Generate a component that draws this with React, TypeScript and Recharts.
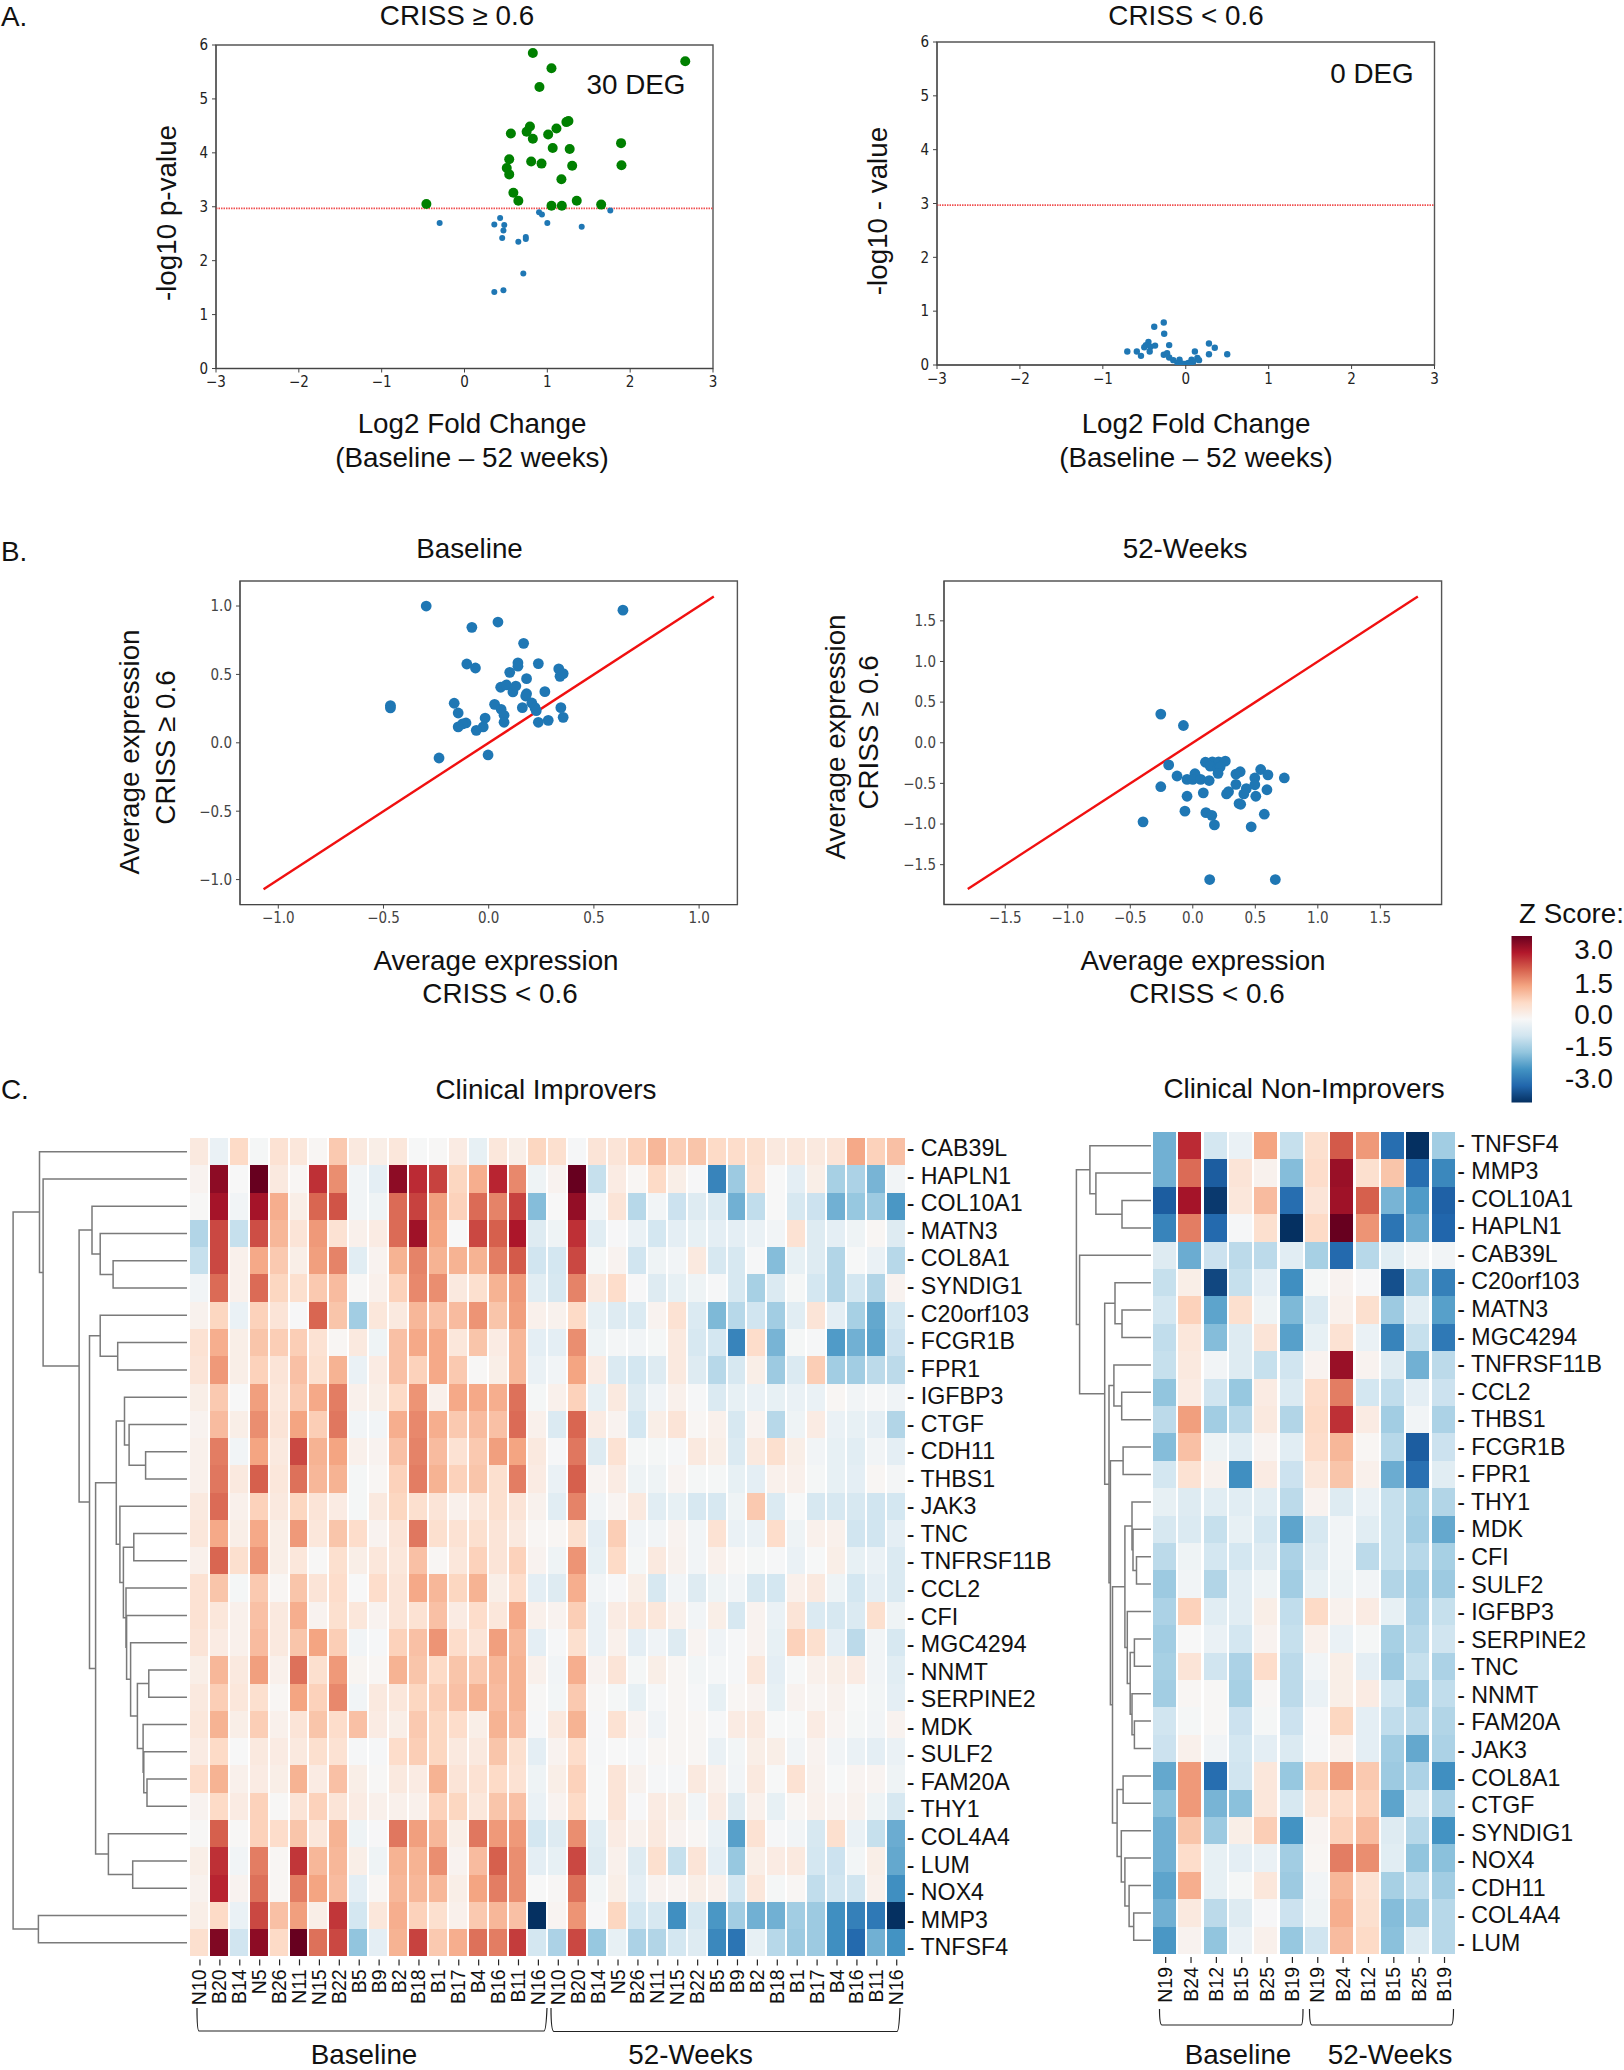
import React from 'react';
import { BarChart, Bar, Cell, ScatterChart, Scatter, XAxis, YAxis, ReferenceLine, ReferenceArea } from 'recharts';

// Panel A: volcano plots [log2 fold change, -log10 p]
const degGreen = [
  [0.825, 5.85], [1.05, 5.57], [2.665, 5.7], [0.905, 5.22], [1.255, 4.59], [1.23, 4.57], [0.79, 4.49], [0.75, 4.39],
  [0.56, 4.36], [1.11, 4.45], [1.01, 4.34], [0.825, 4.26], [1.065, 4.09], [1.27, 4.07], [1.89, 4.18], [0.54, 3.88],
  [0.805, 3.84], [0.93, 3.8], [1.3, 3.76], [1.895, 3.77], [0.51, 3.72], [0.54, 3.6], [1.17, 3.51], [0.59, 3.26],
  [0.65, 3.11], [1.355, 3.11], [1.05, 3.02], [1.175, 3.02], [1.65, 3.04], [-0.46, 3.05],
];
const nonDegBlue = [
  [-0.3, 2.7], [0.36, 2.67], [0.43, 2.79], [0.48, 2.66], [0.47, 2.56], [0.455, 2.42], [0.65, 2.35], [0.74, 2.44],
  [0.74, 2.4], [0.71, 1.76], [0.36, 1.42], [0.47, 1.45], [0.9, 2.9], [0.935, 2.855], [1.0, 2.7], [1.415, 2.63], [1.76, 2.93],
];
const nonResponders = [
  [-0.265, 0.79], [-0.38, 0.71], [-0.26, 0.58], [-0.2, 0.37], [-0.45, 0.43], [-0.48, 0.37], [-0.5, 0.33], [-0.425, 0.34],
  [-0.37, 0.36], [-0.435, 0.25], [-0.705, 0.25], [-0.59, 0.25], [-0.54, 0.17], [-0.265, 0.19], [-0.225, 0.22], [-0.2, 0.14],
  [-0.15, 0.09], [-0.075, 0.1], [-0.1, 0.04], [-0.01, 0.02], [0.03, 0.04], [0.07, 0.1], [0.11, 0.25], [0.14, 0.13],
  [0.16, 0.09], [0.09, 0.06], [0.28, 0.4], [0.35, 0.32], [0.28, 0.2], [0.5, 0.2], [-0.05, 0.03], [0.05, 0.03],
];
const pThreshold = 2.97;

// Panel B: average expression [CRISS < 0.6, CRISS >= 0.6]
const baselineExpr = [
  [-0.297, 1.0], [0.638, 0.97], [0.044, 0.883], [-0.08, 0.844], [0.166, 0.727], [-0.104, 0.576], [-0.063, 0.547], [0.139, 0.584],
  [0.139, 0.56], [0.236, 0.579], [0.1, 0.515], [0.18, 0.469], [0.333, 0.54], [0.339, 0.486], [0.354, 0.506], [0.057, 0.406],
  [0.084, 0.423], [0.115, 0.372], [0.129, 0.415], [0.18, 0.359], [0.176, 0.342], [0.267, 0.374], [-0.467, 0.272], [-0.467, 0.255],
  [-0.164, 0.289], [0.028, 0.281], [-0.145, 0.218], [0.059, 0.245], [0.16, 0.257], [0.205, 0.291], [0.22, 0.257], [0.226, 0.235],
  [0.343, 0.257], [0.073, 0.201], [-0.017, 0.181], [0.354, 0.186], [0.283, 0.164], [0.236, 0.15], [0.073, 0.15], [-0.108, 0.145],
  [-0.124, 0.138], [-0.145, 0.116], [-0.026, 0.116], [-0.059, 0.091], [-0.236, -0.111], [-0.003, -0.089],
];
const week52Expr = [
  [-0.256, 0.353], [-0.075, 0.212], [0.101, -0.24], [0.156, -0.235], [0.206, -0.235], [0.26, -0.226], [0.139, -0.287], [0.198, -0.32],
  [0.219, -0.296], [0.202, -0.376], [-0.193, -0.273], [-0.126, -0.409], [-0.046, -0.451], [0.017, -0.381], [0, -0.451], [0.063, -0.451],
  [0.131, -0.465], [0.345, -0.386], [0.379, -0.357], [0.543, -0.329], [0.601, -0.395], [0.732, -0.433], [0.496, -0.433], [0.496, -0.517],
  [0.345, -0.512], [-0.256, -0.541], [0.428, -0.564], [0.408, -0.63], [0.286, -0.602], [0.27, -0.63], [0.593, -0.578], [0.504, -0.658],
  [-0.046, -0.658], [0.084, -0.616], [0.37, -0.748], [0.383, -0.757], [-0.063, -0.842], [0.105, -0.86], [0.152, -0.893], [0.572, -0.879],
  [-0.398, -0.973], [0.173, -1.011], [0.467, -1.034], [0.135, -1.683], [0.66, -1.683],
];

// Panel C: heatmaps
const improverSamples = ['N10', 'B20', 'B14', 'N5', 'B26', 'N11', 'N15', 'B22', 'B5', 'B9', 'B2', 'B18', 'B1', 'B17', 'B4', 'B16', 'B11', 'N16'];
const improverGenes = ['CAB39L', 'HAPLN1', 'COL10A1', 'MATN3', 'COL8A1', 'SYNDIG1', 'C20orf103', 'FCGR1B', 'FPR1', 'IGFBP3', 'CTGF', 'CDH11', 'THBS1', 'JAK3', 'TNC', 'TNFRSF11B', 'CCL2', 'CFI', 'MGC4294', 'NNMT', 'SERPINE2', 'MDK', 'SULF2', 'FAM20A', 'THY1', 'COL4A4', 'LUM', 'NOX4', 'MMP3', 'TNFSF4'];
const improverBaseline = [
  [.3, -.2, .6, -.05, .45, .35, .05, .8, .3, .2, .35, -.01, .03, .25, -.25, .35, .2, .65],
  [.1, 2.7, 0, 3, .3, .05, 2.2, 1.4, -.1, -.3, 2.7, 2.25, 2.05, .65, 1.1, 2.3, 1.45, -.15],
  [.03, 2.5, -.1, 2.5, 1.1, .2, 1.75, 1.9, -.1, -.15, 1.7, 2.05, 1.25, .7, 1.7, 1.5, 2.05, -1.3],
  [-.9, 2, -.7, 1.95, 1, .4, 1.3, .45, .15, .25, 1.7, 2.55, 1.2, 0, 2, 1.8, 2.45, -.4],
  [-.7, 2, .15, 1.15, .8, .2, 1.25, 1.5, -.35, .1, 1.05, 1.5, 1.05, 1.05, 1.05, 1.55, 1.85, -.6],
  [-.1, 1.7, .15, 1.7, .65, .5, .8, .95, .02, .15, .7, 1.45, 1.4, .3, .5, 1.05, 1.3, -.35],
  [.12, .65, -.2, .7, .4, -.02, 1.75, .85, -1.05, .35, .3, 1, .9, .95, 1.35, .85, 1.25, .15],
  [.45, 1.1, .2, .85, .75, .75, .45, .05, .3, -.15, .9, 1.15, 1.15, .35, .85, .25, 1, -.3],
  [.4, 1.3, .2, .7, .4, .9, .5, 1.05, -.2, .25, .9, .7, 1.15, .8, .03, .2, 1, -.2],
  [.2, .8, 0, 1.25, .35, .8, 1.15, 1.55, .15, .2, .6, 1.35, .15, 1.15, 1.15, 1.1, 1.65, -.05],
  [.1, .95, .2, 1.4, .4, 1.2, .75, 1.6, -.1, -.1, 1.1, 1.45, 1.1, .8, .95, .9, 1.7, .15],
  [.15, 1.55, -.1, 1.2, .3, 2, 1.05, 1.2, .15, .1, .9, 1.5, .95, .45, .8, 1.25, 1.2, .3],
  [.15, 1.6, .3, 1.8, .35, 1.65, 1, 1.05, -.05, .05, .7, 1.55, 1.05, .7, .85, .5, 1.55, .25],
  [.3, 1.7, .15, .7, .3, .65, .4, .25, -.05, .3, .65, .5, .4, .15, .35, .5, .4, .12],
  [.35, 1.15, .2, 1.15, .2, 1.3, .35, .85, .55, .1, .4, 1.6, .5, .45, .5, .4, .3, .05],
  [.15, 1.75, .5, 1.35, .2, .35, .02, .5, .2, .35, .35, .9, .05, .35, .7, .4, .7, .1],
  [.45, .85, -.05, .8, .05, .85, .4, .55, 0, .55, .4, 1.15, 1, .65, 1.05, .2, .55, -.3],
  [.45, .35, .15, .9, .3, 1.1, .1, .5, .35, .1, .4, .45, .9, .25, .55, .35, 1.15, .15],
  [.4, .25, .15, .95, .3, .85, 1.2, .75, -.1, -.03, .7, .9, 1.35, .55, .4, 1.25, 1, -.3],
  [.2, 1, .3, 1.25, .15, 1.65, .5, 1.3, .07, .05, 1.05, .85, .6, .85, .8, 1, 1.05, .15],
  [.3, .75, .35, .5, .05, 1.2, .7, 1.45, -.1, .3, .35, .65, .75, .9, 1.05, .95, 1.05, .03],
  [.35, 1.05, .2, .75, .15, .4, .85, .55, .9, .25, .2, .8, .65, .55, .2, 1.05, .95, -.03],
  [.25, .6, 0, .3, .25, .3, .5, .45, -.03, -.03, .55, .75, .65, .3, .3, .85, .5, -.3],
  [.55, 1.05, .15, .25, .2, 1.05, .25, .9, .2, .03, .3, .25, 1.05, .4, .45, .6, .45, -.15],
  [.1, .6, .25, .7, .03, .4, .7, .4, .25, .15, .15, .15, .7, .65, .35, .85, .9, -.2],
  [.03, 1.8, .02, .7, .55, .85, .35, 1.05, -.15, -.02, 1.6, 1.25, 1, .2, 1.6, 1.3, 1.3, -.55],
  [.2, 2.2, -.1, 1.55, .05, 2.15, 1, 1, .2, -.15, 1.05, 1.05, 1.4, .1, .95, 1.8, 1.4, -.3],
  [.12, 2.3, .1, 1.65, .05, 1.55, 1.2, .95, -.3, .05, 1, 1, 1, .2, 1.2, 1.55, 1.4, 0],
  [.2, .6, -.2, 2, .9, 1.25, .2, 2.15, -.55, .35, 1.1, .7, .5, .15, .8, 1, .9, -3],
  [.5, 2.8, -.6, 2.7, .6, 3, 1.65, 2, -1.2, -.3, 1.05, 2.05, .8, 1.1, 1.65, 1.55, 2.1, -.55],
];
const improverWeek52 = [
  [.5, -.03, .4, .4, .7, 1, .75, .85, .6, .55, .5, .3, .35, .3, .4, 1.15, .7, .9],
  [.1, 3, -.7, .25, .05, .6, .2, -.02, -2, -1.1, .45, 0, -.3, .2, -1, -.95, -1.4, -.1],
  [0, 2.65, -.1, .4, -.85, -.1, -.65, -.4, -.45, -1.45, -.75, 0, -.5, -.65, -1.45, -1.15, -1.1, -1.75],
  [-.15, 2.2, -.35, -.02, -.2, -.55, -.3, -.25, -.3, -.3, -.2, -.1, .45, -.4, -.3, -.15, .05, -.4],
  [-.55, 2, -.05, .1, -.6, -.15, -.1, .3, -.5, -.5, -.03, -1.3, -.25, -.4, -.9, -.01, -.2, -.85],
  [-.5, 1.5, .3, .55, -.02, -.4, -.25, -.15, -.03, -.5, -1, -.45, -.05, -.55, -.9, -.55, -.9, .1],
  [.12, .6, -.25, -.4, -.45, .1, .45, -.45, -1.35, -.85, -.6, -1.05, -.35, .4, -.3, -1, -1.55, -.55],
  [-.3, 1.4, -.15, -.07, -.1, -.05, .3, -.5, -.55, -2, .55, -1.4, -.05, -.03, -1.7, -1.45, -1.6, -.65],
  [-.1, 1.2, .25, -.45, -.55, -.4, .3, -.4, -.85, -.5, .2, -1.1, -.45, .75, -1.05, -1.05, -.8, -.8],
  [.15, .7, -.25, .3, -.4, -.12, .15, -.03, -.45, -.25, -.2, -.25, -.2, -.2, .05, -.1, -.03, -.12],
  [-.45, 1.75, .25, .1, -.55, .2, .4, .05, .15, -.5, .1, -.85, -.15, .25, -.2, -.25, -.3, -.9],
  [-.03, 1.6, -.4, .45, -.05, -.05, -.03, .3, .2, -.45, .3, .5, .2, -.1, -.25, -.35, -.1, -.3],
  [-.2, 1.8, .08, .25, -.15, -.15, .08, -.05, -.05, -.25, -.3, .15, .15, -.05, -.25, -.3, .05, -.07],
  [-.35, 1.5, -.1, .08, .3, -.35, -.25, -.5, -.5, -.15, .8, -.45, -.01, -.5, -.5, -.5, -.6, -.55],
  [.05, .5, -.3, .75, -.1, -.1, .1, -.1, .45, -.2, -.2, .55, -.15, .15, .15, -.6, -.6, -.3],
  [-.15, 1.35, -.25, .6, -.05, .3, .12, -.1, .15, .03, -.05, -.03, -.2, -.01, .2, -.25, -.2, -.45],
  [-.4, 1.1, -.1, -.02, .2, -.5, -.1, -.4, -.15, -.1, -.5, -.55, .15, .3, -.15, -.55, -.3, -.45],
  [.1, .75, -.2, .25, .35, .35, .15, -.1, .2, -.5, .1, -.2, .4, -.45, -.5, -.45, .5, -.15],
  [-.03, .5, -.2, .15, -.3, -.12, -.4, .08, -.12, -.03, .1, -.25, .7, .5, -.3, -.8, -.1, -.5],
  [-.1, 1.1, .1, .4, -.05, .2, .05, -.08, -.04, -.03, .35, -.3, -.01, .15, .2, .25, -.1, -.35],
  [-.08, .8, .03, -.05, -.25, -.03, .05, -.03, -.25, .05, .1, -.25, .1, .06, .12, -.01, -.08, -.3],
  [.3, 1.05, -.02, .45, .08, -.12, .05, .05, -.03, .25, .3, -.01, -.01, .25, .08, -.05, -.1, .1],
  [.1, .55, -.03, 0, -.03, .05, .05, .05, -.2, -.08, .2, .2, -.1, .1, -.1, -.2, -.3, -.2],
  [.2, .7, -.01, .4, .12, -.03, -.03, .3, .15, -.1, .3, -.01, .45, .12, -.01, .08, .08, -.15],
  [.1, .6, -.01, .4, -.02, .25, .2, -.1, .25, -.4, .15, -.25, .05, .15, .08, .12, -.15, -.5],
  [-.4, 1.4, -.35, .25, .12, .3, .1, .05, -.2, -1.65, .45, -.03, -.1, -.5, .5, -.2, -.7, -1.5],
  [-.25, 2, -.4, .15, -.4, .5, -.7, .4, -.3, -1.15, .2, .25, .3, -.55, -.65, -.08, .2, -1.55],
  [.04, 1.65, -.08, .2, -.3, .1, .08, .2, .15, -.55, .35, -.05, .05, -.75, -.6, -.6, .15, -1.85],
  [.08, 1.35, -.02, .65, -.55, -.5, -1.85, -.5, -1.75, -1.05, -1.45, -1.45, -1.05, -1.1, -1.85, -2.05, -2.15, -3],
  [-.95, 2, -1.15, -.25, -.95, -.9, -.55, -.4, -1.95, -2.2, -.25, -.85, -1.1, -1.1, -1.85, -2.35, -1.45, -1.8],
];

const nonImproverSamples = ['N19', 'B24', 'B12', 'B15', 'B25', 'B19'];
const nonImproverGenes = ['TNFSF4', 'MMP3', 'COL10A1', 'HAPLN1', 'CAB39L', 'C20orf103', 'MATN3', 'MGC4294', 'TNFRSF11B', 'CCL2', 'THBS1', 'FCGR1B', 'FPR1', 'THY1', 'MDK', 'CFI', 'SULF2', 'IGFBP3', 'SERPINE2', 'TNC', 'NNMT', 'FAM20A', 'JAK3', 'COL8A1', 'CTGF', 'SYNDIG1', 'NOX4', 'CDH11', 'COL4A4', 'LUM'];
const nonImproverValues = [
  [-1.45, 2.25, -.55, -.2, 1.2, -.7, .5, 1.85, 1.3, -2.3, -3, -1.05],
  [-1.45, 1.7, -2.5, .4, .12, -1.3, .55, 2.6, .5, .85, -2.3, -1.95],
  [-2.5, 2.5, -2.9, .35, .95, -2.3, .4, 2.55, 1.8, -1.4, -1.7, -2.45],
  [-2, 1.55, -2.35, -.03, .5, -3, .6, 3, 1.35, -2.2, -1.5, -2.4],
  [-.4, -1.5, -.65, -.8, -.8, -.35, -1, -2.35, -.85, -.35, -.1, -.1],
  [-.7, .2, -2.75, -.7, -.3, -1.85, -.05, .1, -.02, -2.65, -1.05, -2.05],
  [-.55, .7, -1.6, .5, -.15, -1.35, -.45, .15, .5, -1.1, -.35, -1.65],
  [-.75, .35, -1.3, -.4, .4, -1.65, -.25, .45, -.2, -2, -.7, -2.15],
  [-.7, .3, -.1, -.4, -.7, -.6, .1, 2.6, .1, -.4, -1.45, -.8],
  [-1.2, .25, -.6, -1.15, .25, -.45, .55, 1.55, -.55, -.75, -.3, -.65],
  [-.8, 1.25, -1.05, -.85, .3, -.9, .6, 2.2, .25, -1.05, -.1, -.95],
  [-1.3, .9, -.15, -.35, .08, -.35, .55, 1, .05, -.85, -2.5, -.65],
  [-.55, .45, .12, -1.85, .25, -.65, .35, .85, .15, -1.5, -2.25, -.35],
  [-.25, -.4, -.35, -.35, -.35, -.8, .1, -.4, -.2, -.7, -1, -.9],
  [-.5, -.45, -.7, -.25, -.55, -1.6, -.5, -.1, -.35, -.7, -1.05, -1.55],
  [-.8, -.15, -.55, -.55, -.4, -.95, -.4, -.1, -.8, -.7, -.85, -1],
  [-1.1, -.1, -.9, -.35, -.15, -1.05, -.25, -.15, -.1, -.9, -1.05, -1.1],
  [-.95, .7, -.35, -.35, .2, -.75, .6, .12, .25, -.25, -.95, -.7],
  [-1.05, 0, -.2, -.55, .1, -.7, .15, -.2, -.05, -1, -.85, -.6],
  [-1, .4, -.6, -.95, .55, -.8, -.1, .2, -.3, -1.1, -.7, -.95],
  [-1.05, .05, .02, -1, .04, -.8, -.2, .2, .25, -.55, -1.05, -.75],
  [-.6, -.05, .02, -.65, -.05, -.65, -.02, .65, -.3, -.75, -.8, -.9],
  [-.65, .15, -.1, -.55, -.3, -.45, -.03, .15, -.3, -1.05, -1.55, -.95],
  [-1.55, 1.3, -2.3, -.6, .35, -1.15, .65, 1.25, .8, -1.1, -.95, -1.85],
  [-1.25, 1.3, -1.4, -1.25, .35, -.5, .35, .55, .7, -1.6, -.5, -.95],
  [-1.45, .85, -1.1, .2, .75, -1.8, .08, .7, .95, -.4, -.85, -1.8],
  [-1.45, .55, -.25, -.3, -.2, -1.05, .05, 1.55, 1.4, -.35, -1.2, -1.25],
  [-1.6, 1.1, -.25, -.05, .35, -1.1, -.1, 1, .45, -1, -.75, -1.05],
  [-1.45, .3, -.8, -.4, -.02, -.65, -.15, 1.1, .5, -1.3, -1.1, -.85],
  [-1.75, .1, -1.2, -.2, .15, -1.15, -.6, .95, .6, -1.25, -.45, -.85],
];

// linkage lists, scipy style: [childA, childB, height]; child >= 30 means merge (child - 30)
const improverLinkage = [
  [4, 5, 73.9], [3, 30, 86.8], [2, 31, 95], [7, 8, 69.3], [6, 33, 86.8], [11, 12, 41.4], [10, 35, 57.9], [9, 36, 62.5],
  [14, 15, 53.2], [19, 20, 38.2], [23, 24, 40], [22, 40, 43.2], [21, 41, 43.9], [39, 42, 49.6], [18, 43, 56.4], [17, 44, 60.4],
  [16, 45, 61], [38, 46, 63.6], [13, 47, 67.1], [37, 48, 70.7], [26, 27, 54.3], [25, 50, 78.6], [49, 51, 91.4], [34, 52, 97.5],
  [32, 53, 107.9], [1, 54, 143.9], [0, 55, 147.5], [28, 29, 148.6], [56, 57, 173.9],
];
const nonImproverLinkage = [
  [2, 3, 29], [1, 30, 55.1], [0, 31, 61.1], [6, 7, 29], [5, 33, 36], [9, 10, 29.3], [8, 35, 37.1], [11, 12, 27.9],
  [15, 16, 14.5], [14, 38, 18], [13, 39, 19], [18, 19, 16.6], [21, 22, 16.6], [20, 42, 19], [41, 43, 20.8], [17, 44, 23.7],
  [40, 45, 26.1], [23, 24, 27.9], [28, 29, 17.3], [27, 48, 21.9], [26, 49, 26.1], [25, 50, 29.7], [47, 51, 33.9], [46, 52, 38.5],
  [37, 53, 40.6], [36, 54, 42], [34, 55, 46.3], [4, 56, 71.4], [32, 57, 74.6],
];

const rdbuStops = ['#053061', '#2166ac', '#4393c3', '#92c5de', '#d1e5f0', '#f7f7f7', '#fddbc7', '#f4a582', '#d6604d', '#b2182b', '#67001f'];
const colorbarLabels = ['3.0', '1.5', '0.0', '-1.5', '-3.0'];

const SANS = '"Liberation Sans", Arial, sans-serif';
const TICK_FONT = '"DejaVu Sans Condensed", "DejaVu Sans", sans-serif';

const hexRgb = (h: string) => [1, 3, 5].map((i) => parseInt(h.slice(i, i + 2), 16));
const zColor = (z: number) => {
  const t = (Math.max(-3, Math.min(3, z)) + 3) / 0.6;
  const i = Math.min(9, Math.floor(t));
  const a = hexRgb(rdbuStops[i]);
  const b = hexRgb(rdbuStops[i + 1]);
  const c = a.map((v, k) => Math.round(v + (b[k] - v) * (t - i)));
  return `rgb(${c[0]},${c[1]},${c[2]})`;
};

const toPoints = (pairs: number[][]) => pairs.map(([x, y]) => ({ x, y }));
const dot = (r: number, fill: string) => (p: any) => <circle cx={p.cx} cy={p.cy} r={r} fill={fill} />;
const noDot = () => <g />;
const signed = (v: number, digits: number) => v.toFixed(digits).replace('-', '\u2212');

interface Box { left: number; top: number; width: number; height: number }

const at = (left: number, top: number): React.CSSProperties => ({ position: 'absolute', left, top });

const ScatterPanel = ({ box, xDomain, yDomain, xTicks, yTicks, digits, tickColor, children }: any) => {
  const style = { fontSize: 15, fontFamily: TICK_FONT, fill: tickColor };
  return (
    <div style={at(box.left - 60, box.top - 10)}>
      <ScatterChart width={box.width + 70} height={box.height + 50} margin={{ top: 10, right: 10, left: 0, bottom: 0 }}>
        <XAxis type="number" dataKey="x" domain={xDomain} ticks={xTicks} interval={0} height={40} allowDataOverflow
          tick={style} tickSize={4} tickMargin={4} stroke="#444" tickFormatter={(v) => signed(v, digits)} />
        <YAxis type="number" dataKey="y" domain={yDomain} ticks={yTicks} interval={0} width={60} allowDataOverflow
          tick={style} tickSize={4} tickMargin={4} stroke="#444" tickFormatter={(v) => signed(v, digits)} />
        <ReferenceArea x1={xDomain[0]} x2={xDomain[1]} y1={yDomain[0]} y2={yDomain[1]} fill="none" stroke="#555" strokeWidth={1.4} />
        {children}
      </ScatterChart>
    </div>
  );
};

const SampleTick = ({ x, y, payload, names }: any) => (
  <g>
    <line x1={x + 1} x2={x + 1} y1={y + 1} y2={y + 7} stroke="#222" strokeWidth={1.2} />
    <text transform={`translate(${x + 7.5},${y + 11}) rotate(-90)`} textAnchor="end" fontSize={19.5} fontFamily={SANS} fill="#111">
      {names[payload.value % names.length]}
    </text>
  </g>
);

// the gene labels sit on a slightly wider pitch than the rows: labelStart, labelStep in row units
const Heatmap = ({ box, rows, genes, samples, labelStart, labelStep }: any) => {
  const columns = rows[0].map((_: number, c: number) => {
    const entry: Record<string, number> = { col: c };
    rows.forEach((_r: number[], r: number) => { entry[`r${r}`] = 1; });
    return entry;
  });
  const band = box.width / columns.length;
  const headroom = 12; // keeps the first gene label inside the svg
  return (
    <div style={at(box.left, box.top - headroom)}>
      <BarChart width={box.width + 170} height={box.height + 70 + headroom} data={columns} barCategoryGap={0} barSize={Math.ceil(band)}
        margin={{ top: headroom, right: 0, left: 0, bottom: 0 }}>
        <XAxis dataKey="col" type="category" interval={0} height={70} tickLine={false} axisLine={false} tickSize={0}
          tick={<SampleTick names={samples} />} />
        <YAxis orientation="right" type="number" domain={[0, rows.length]} reversed width={170}
          ticks={rows.map((_: number[], r: number) => labelStart + labelStep * r)} interval={0} tickLine={false} axisLine={false} tickSize={0} tickMargin={1}
          tick={{ fontSize: 23.2, fontFamily: SANS, fill: '#111' }}
          tickFormatter={(v) => `- ${genes[Math.round((v - labelStart) / labelStep)]}`} />
        {rows.map((values: number[], r: number) => (
          <Bar key={r} dataKey={`r${r}`} stackId="heat" isAnimationActive={false}>
            {values.map((z, c) => <Cell key={c} fill={zColor(z)} shapeRendering="crispEdges" />)}
          </Bar>
        ))}
      </BarChart>
    </div>
  );
};

const linkagePaths = (linkage: number[][], leaves: number) => {
  const nodes: { h: number; y: number }[] = [];
  const node = (id: number) => (id < leaves ? { h: 0, y: id + 0.5 } : nodes[id - leaves]);
  return linkage.map(([a, b, h]) => {
    const na = node(a);
    const nb = node(b);
    nodes.push({ h, y: (na.y + nb.y) / 2 });
    return [{ x: na.h, y: na.y }, { x: h, y: na.y }, { x: h, y: nb.y }, { x: nb.h, y: nb.y }];
  });
};

const Dendrogram = ({ box, linkage, leaves }: { box: Box; linkage: number[][]; leaves: number }) => (
  <div style={at(box.left, box.top)}>
    <ScatterChart width={box.width} height={box.height} margin={{ top: 0, right: 0, left: 0, bottom: 0 }}>
      <XAxis type="number" dataKey="x" domain={[0, box.width]} reversed hide />
      <YAxis type="number" dataKey="y" domain={[0, leaves]} reversed hide />
      {linkagePaths(linkage, leaves).map((path, i) => (
        <Scatter key={i} data={path} shape={noDot} line={{ stroke: '#7a7a7a', strokeWidth: 1.5 }} lineType="joint" isAnimationActive={false} />
      ))}
    </ScatterChart>
  </div>
);

const Txt = ({ x, y, rot, anchor = 'middle', size = 27.8, children }: any) => (
  <text x={rot ? 0 : x} y={rot ? 0 : y} transform={rot ? `translate(${x},${y}) rotate(-90)` : undefined}
    textAnchor={anchor} fontSize={size} fontFamily={SANS} fill="#111">{children}</text>
);

const BLUE = '#1f77b4';
const GREEN = '#008000';

export default function App() {
  const colorbarBaselines = [959, 993, 1024, 1056, 1087.5];
  return (
    <div style={{ position: 'absolute', left: 0, top: 0, width: 1624, height: 2070, background: '#fff', overflow: 'hidden' }}>
      <ScatterPanel box={{ left: 216, top: 44.5, width: 497, height: 323.5 }} xDomain={[-3, 3]} yDomain={[0, 6]}
        xTicks={[-3, -2, -1, 0, 1, 2, 3]} yTicks={[0, 1, 2, 3, 4, 5, 6]} digits={0} tickColor="#222">
        <ReferenceLine y={pThreshold} stroke="#f05050" strokeWidth={1.6} strokeDasharray="1.5 1" />
        <Scatter data={toPoints(degGreen)} shape={dot(5, GREEN)} isAnimationActive={false} />
        <Scatter data={toPoints(nonDegBlue)} shape={dot(3, BLUE)} isAnimationActive={false} />
      </ScatterPanel>
      <ScatterPanel box={{ left: 936.5, top: 42, width: 497.5, height: 323 }} xDomain={[-3, 3]} yDomain={[0, 6]}
        xTicks={[-3, -2, -1, 0, 1, 2, 3]} yTicks={[0, 1, 2, 3, 4, 5, 6]} digits={0} tickColor="#222">
        <ReferenceLine y={pThreshold} stroke="#f05050" strokeWidth={1.6} strokeDasharray="1.5 1" />
        <Scatter data={toPoints(nonResponders)} shape={dot(3.2, BLUE)} isAnimationActive={false} />
      </ScatterPanel>
      <ScatterPanel box={{ left: 239.6, top: 580.7, width: 497.4, height: 323.6 }} xDomain={[-1.182, 1.182]} yDomain={[-1.183, 1.183]}
        xTicks={[-1, -0.5, 0, 0.5, 1]} yTicks={[-1, -0.5, 0, 0.5, 1]} digits={1} tickColor="#444">
        <Scatter data={toPoints(baselineExpr)} shape={dot(5.4, BLUE)} isAnimationActive={false} />
        <ReferenceLine segment={[{ x: -1.07, y: -1.07 }, { x: 1.07, y: 1.07 }]} stroke="#f01010" strokeWidth={2.4} />
      </ScatterPanel>
      <ScatterPanel box={{ left: 944, top: 580.5, width: 497.6, height: 323.5 }} xDomain={[-1.99, 1.99]} yDomain={[-1.99, 1.99]}
        xTicks={[-1.5, -1, -0.5, 0, 0.5, 1, 1.5]} yTicks={[-1.5, -1, -0.5, 0, 0.5, 1, 1.5]} digits={1} tickColor="#444">
        <Scatter data={toPoints(week52Expr)} shape={dot(5.4, BLUE)} isAnimationActive={false} />
        <ReferenceLine segment={[{ x: -1.8, y: -1.8 }, { x: 1.8, y: 1.8 }]} stroke="#f01010" strokeWidth={2.4} />
      </ScatterPanel>

      <Dendrogram box={{ left: 0, top: 1138.3, width: 187, height: 818.4 }} linkage={improverLinkage} leaves={30} />
      <Heatmap box={{ left: 189, top: 1138.3, width: 716.7, height: 818.4 }} labelStart={0.367} labelStep={1.0099}
        rows={improverBaseline.map((r, i) => [...r, ...improverWeek52[i]])} genes={improverGenes} samples={improverSamples} />
      <Dendrogram box={{ left: 1070, top: 1132, width: 81, height: 822 }} linkage={nonImproverLinkage} leaves={30} />
      <Heatmap box={{ left: 1152, top: 1132, width: 304.2, height: 822 }} rows={nonImproverValues} labelStart={0.412} labelStep={1.0062}
        genes={nonImproverGenes} samples={nonImproverSamples} />

      <svg width={1624} height={2070} style={{ position: 'absolute', left: 0, top: 0, pointerEvents: 'none' }}>
        <defs>
          <linearGradient id="zbar" x1="0" y1="1" x2="0" y2="0">
            {rdbuStops.map((c, i) => <stop key={c} offset={i / 10} stopColor={c} />)}
          </linearGradient>
        </defs>
        <Txt x={1} y={26} anchor="start">A.</Txt>
        <Txt x={1} y={561} anchor="start">B.</Txt>
        <Txt x={1} y={1099} anchor="start">C.</Txt>

        <Txt x={457} y={25}>CRISS ≥ 0.6</Txt>
        <Txt x={1186} y={25}>CRISS &lt; 0.6</Txt>
        <Txt x={636} y={94}>30 DEG</Txt>
        <Txt x={1372} y={82.7}>0 DEG</Txt>
        <Txt x={472} y={433}>Log2 Fold Change</Txt>
        <Txt x={472} y={467}>(Baseline – 52 weeks)</Txt>
        <Txt x={1196} y={433}>Log2 Fold Change</Txt>
        <Txt x={1196} y={467}>(Baseline – 52 weeks)</Txt>
        <Txt x={176} y={213} rot>-log10 p-value</Txt>
        <Txt x={887} y={211} rot>-log10 - value</Txt>

        <Txt x={469.5} y={557.7}>Baseline</Txt>
        <Txt x={1185} y={557.5}>52-Weeks</Txt>
        <Txt x={139} y={752} rot>Average expression</Txt>
        <Txt x={174.6} y={747.5} rot>CRISS ≥ 0.6</Txt>
        <Txt x={496} y={970}>Average expression</Txt>
        <Txt x={500} y={1002.7}>CRISS &lt; 0.6</Txt>
        <Txt x={844.7} y={737} rot>Average expression</Txt>
        <Txt x={877.8} y={732.4} rot>CRISS ≥ 0.6</Txt>
        <Txt x={1203} y={969.7}>Average expression</Txt>
        <Txt x={1207} y={1003}>CRISS &lt; 0.6</Txt>

        <Txt x={1519} y={922.6} anchor="start">Z Score:</Txt>
        <rect x={1511.5} y={936} width={20.5} height={166.5} fill="url(#zbar)" />
        {colorbarLabels.map((label, i) => (
          <Txt key={label} x={1613} y={colorbarBaselines[i]} anchor="end">{label}</Txt>
        ))}

        <Txt x={546} y={1099}>Clinical Improvers</Txt>
        <Txt x={1304} y={1098}>Clinical Non-Improvers</Txt>

        <g fill="none" stroke="#222" strokeWidth={1.2}>
          <path d="M197 2008 Q197 2031 199 2031 L544 2031 Q546 2031 547 2008" />
          <path d="M551 2008 Q551 2031.5 554 2031.5 L897 2031.5 Q899 2031.5 900 2008" />
          <path d="M1159.5 2009 Q1159.5 2025 1162 2025 L1301 2025 Q1303 2025 1303 2009" />
          <path d="M1309.5 2009 Q1309.5 2025 1312 2025 L1451 2025 Q1453.5 2025 1453.5 2009" />
        </g>
        <Txt x={364} y={2064}>Baseline</Txt>
        <Txt x={690.6} y={2064}>52-Weeks</Txt>
        <Txt x={1238} y={2064}>Baseline</Txt>
        <Txt x={1390} y={2064}>52-Weeks</Txt>
      </svg>
    </div>
  );
}
